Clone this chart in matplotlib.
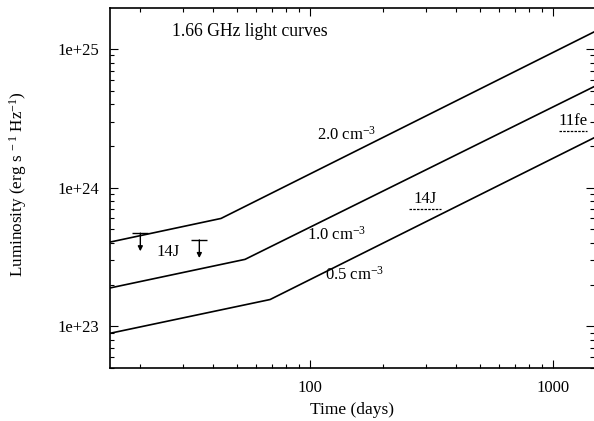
import numpy as np
import matplotlib.pyplot as plt
from matplotlib.ticker import FixedLocator, FuncFormatter, LogLocator, NullFormatter

plt.rcParams['font.family'] = ['Liberation Serif', 'DejaVu Serif']
plt.rcParams['mathtext.fontset'] = 'custom'
plt.rcParams['mathtext.rm'] = 'Liberation Serif'
plt.rcParams['mathtext.it'] = 'Liberation Serif:italic'

# model light curves: break points (days, luminosity) for each density
t_20 = [15, 43, 1479]
L_20 = [4.05e23, 6.0e23, 1.33e25]
t_10 = [15, 54, 1479]
L_10 = [1.89e23, 3.04e23, 5.36e24]
t_05 = [15, 68.5, 1479]
L_05 = [8.9e22, 1.56e23, 2.29e24]

# SN 2014J upper limits
lim_t = [20, 35]
lim_L = [4.7e23, 4.2e23]

# late-time limits (days range, luminosity)
j14_t = [255, 348]
j14_L = 7.0e23
fe11_t = [1061, 1380]
fe11_L = 2.57e24

fig = plt.figure(figsize=(5.94, 4.21), dpi=100)
ax = fig.add_axes([110/594, 53/421, 484/594, 360/421])

for t, L in [(t_20, L_20), (t_10, L_10), (t_05, L_05)]:
    ax.plot(t, L, color='black', lw=1.2)

for t, L in zip(lim_t, lim_L):
    ax.plot([t], [L], marker='_', ms=11, mew=1.0, color='black')
    ax.annotate('', xy=(t, L * 0.74), xytext=(t, L),
                arrowprops=dict(arrowstyle='-|>', lw=1.0, color='black',
                                mutation_scale=7, shrinkA=0, shrinkB=0))

ax.plot(j14_t, [j14_L, j14_L], ls=(0, (2, 1)), color='black', lw=0.9)
ax.plot(fe11_t, [fe11_L, fe11_L], ls=(0, (2, 1)), color='black', lw=0.9)

fs = 12
ax.text(np.sqrt(j14_t[0] * j14_t[1]), j14_L * 1.03, '14J', ha='center', va='bottom', fontsize=fs)
ax.text(np.sqrt(fe11_t[0] * fe11_t[1]), fe11_L * 1.03, '11fe', ha='center', va='bottom', fontsize=fs)
ax.text(26, 3.43e23, '14J', ha='center', va='center', fontsize=fs)
ax.text(142, 2.4e24, r'2.0 cm$^{-3}$', ha='center', va='center', fontsize=fs)
ax.text(129, 4.55e23, r'1.0 cm$^{-3}$', ha='center', va='center', fontsize=fs)
ax.text(153, 2.34e23, r'0.5 cm$^{-3}$', ha='center', va='center', fontsize=fs)
ax.text(0.128, 0.935, '1.66 GHz light curves', transform=ax.transAxes,
        ha='left', va='center', fontsize=12.7)

ax.set_xscale('log')
ax.set_yscale('log')
ax.set_xlim(15, 1479)
ax.set_ylim(5e22, 1.98e25)

ax.xaxis.set_major_locator(FixedLocator([100, 1000]))
ax.xaxis.set_major_formatter(FuncFormatter(lambda v, p: '%d' % v))
ax.xaxis.set_minor_locator(LogLocator(base=10, subs=np.arange(2, 10)))
ax.xaxis.set_minor_formatter(NullFormatter())
ax.yaxis.set_major_locator(FixedLocator([1e23, 1e24, 1e25]))
ax.yaxis.set_major_formatter(FuncFormatter(lambda v, p: '1e+%d' % round(np.log10(v))))
ax.yaxis.set_minor_locator(LogLocator(base=10, subs=np.arange(2, 10)))
ax.yaxis.set_minor_formatter(NullFormatter())

ax.tick_params(which='both', direction='in', top=True, right=True, labelsize=fs, width=0.8)
ax.tick_params(which='major', length=6)
ax.tick_params(which='minor', length=3)
ax.tick_params(axis='x', which='major', pad=9)
ax.tick_params(axis='y', which='major', pad=8)
for s in ax.spines.values():
    s.set_linewidth(1.2)
ax.spines['right'].set_visible(False)

ax.set_xlabel('Time (days)', fontsize=12.5)
ax.set_ylabel(r'Luminosity (erg s$^{\ -1}$ Hz$^{-1}$)', fontsize=12.3)
ax.xaxis.set_label_coords(0.5, -0.095)
ax.yaxis.set_label_coords(-0.168, 0.51)

fig.savefig('out.png', dpi=100)
